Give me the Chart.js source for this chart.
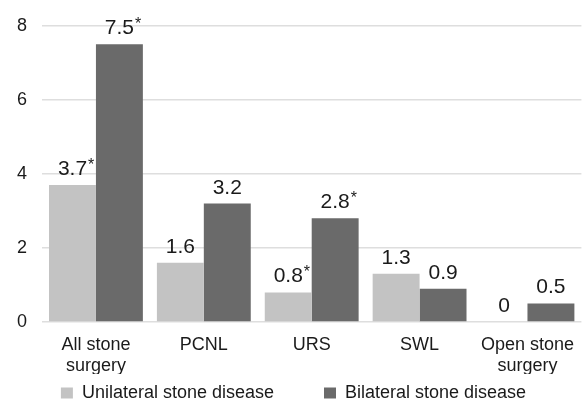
<!DOCTYPE html>
<html>
<head>
<meta charset="utf-8">
<script src="https://cdn.jsdelivr.net/npm/chart.js@4.4.0/dist/chart.umd.min.js"></script>
<style>
  html, body { margin: 0; padding: 0; background: #fff; }
  #wrap { width: 587px; height: 402px; }
</style>
</head>
<body>
<div id="wrap"><canvas id="barChartCanvas"></canvas></div>
<script>
const categories = [["All stone", "surgery"], "PCNL", "URS", "SWL", ["Open stone", "surgery"]];
const unilateral = [3.7, 1.6, 0.8, 1.3, 0];
const bilateral = [7.5, 3.2, 2.8, 0.9, 0.5];
const unilateralStar = [true, false, true, false, false];
const bilateralStar = [true, false, true, false, false];
const yTicks = [0, 2, 4, 6, 8];

const FONT = "'Liberation Sans', Arial, sans-serif";

// value labels above bars, with a superscript * where significant
const valueLabels = {
  id: "valueLabels",
  afterDatasetsDraw(chart) {
    const ctx = chart.ctx;
    const stars = [unilateralStar, bilateralStar];
    chart.data.datasets.forEach((ds, di) => {
      const meta = chart.getDatasetMeta(di);
      meta.data.forEach((bar, i) => {
        const txt = String(ds.data[i]);
        ctx.save();
        ctx.font = "21px " + FONT;
        ctx.fillStyle = "#1a1a1a";
        ctx.textBaseline = "alphabetic";
        ctx.textAlign = "center";
        const y = bar.y - 10;
        ctx.fillText(txt, bar.x, y);
        if (stars[di][i]) {
          const w = ctx.measureText(txt).width;
          ctx.font = "16px " + FONT;
          ctx.textAlign = "left";
          ctx.fillText("*", bar.x + w / 2 + 1, y - 5);
        }
        ctx.restore();
      });
    });
  }
};

new Chart(document.getElementById("barChartCanvas"), {
  type: "bar",
  data: {
    labels: categories,
    datasets: [
      { label: "Unilateral stone disease", data: unilateral, backgroundColor: "#c3c3c3",
        categoryPercentage: 0.87, barPercentage: 1.0 },
      { label: "Bilateral stone disease", data: bilateral, backgroundColor: "#6a6a6a",
        categoryPercentage: 0.87, barPercentage: 1.0 }
    ]
  },
  options: {
    responsive: true,
    maintainAspectRatio: false,
    animation: false,
    layout: { padding: { top: 14, left: 0, right: 0, bottom: 0 } },
    plugins: {
      legend: {
        position: "bottom",
        maxHeight: 28,
        labels: {
          font: { size: 18, family: FONT }, color: "#1a1a1a", boxWidth: 12, boxHeight: 11, padding: 10,
          generateLabels(chart) {
            const items = Chart.defaults.plugins.legend.labels.generateLabels(chart);
            items[0].text = items[0].text + "        ";
            return items;
          }
        }
      },
      tooltip: { enabled: false }
    },
    scales: {
      x: {
        afterFit(axis) { axis.height = 52; },
        grid: { display: false, drawTicks: false },
        border: { display: false },
        ticks: { font: { size: 18, family: FONT, lineHeight: 1.15 }, color: "#1a1a1a", padding: 13, maxRotation: 0 }
      },
      y: {
        min: 0, max: 8,
        afterBuildTicks(axis) { axis.ticks = yTicks.map(v => ({ value: v })); },
        afterFit(axis) { axis.width = 42; },
        grid: { color: "#dedede", lineWidth: 1.5, drawTicks: false },
        border: { display: false },
        ticks: { font: { size: 18, family: FONT }, color: "#1a1a1a", padding: 15 }
      }
    }
  },
  plugins: [valueLabels]
});
</script>
</body>
</html>
